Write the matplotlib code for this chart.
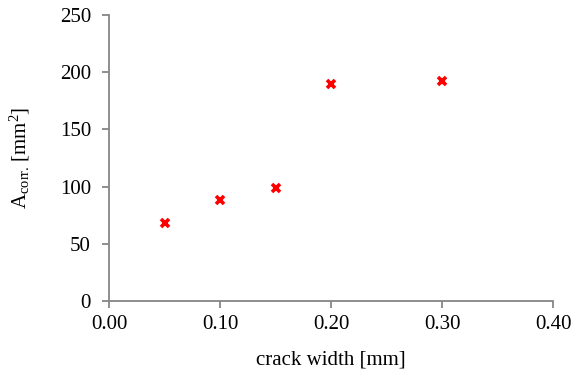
import matplotlib
matplotlib.use("Agg")
import matplotlib.pyplot as plt

# crack width vs. corroded area
crack_width = [0.05, 0.10, 0.15, 0.20, 0.30]
area_corr = [68.5, 88.0, 99.0, 189.5, 192.5]

x_ticks = [0.0, 0.1, 0.2, 0.3, 0.4]
x_labels = ["0.00", "0.10", "0.20", "0.30", "0.40"]
y_ticks = [0, 50, 100, 150, 200, 250]

plt.rcParams["font.family"] = ["Liberation Serif", "DejaVu Serif"]
plt.rcParams["mathtext.fontset"] = "custom"
plt.rcParams["mathtext.rm"] = "Liberation Serif"
plt.rcParams["mathtext.it"] = "Liberation Serif:italic"

axis_grey = "#868686"

fig = plt.figure(figsize=(5.71, 3.76), dpi=100)
ax = fig.add_axes([0.1909, 0.1995, 0.7776, 0.7606])

ax.plot(crack_width, area_corr, linestyle="none", marker="x",
        color="#ff0000", markersize=5.5, markeredgewidth=2.6, clip_on=False)

ax.set_xlim(0, 0.4)
ax.set_ylim(0, 250)
ax.set_xticks(x_ticks)
ax.set_xticklabels(x_labels)
ax.set_yticks(y_ticks)

for side in ("top", "right"):
    ax.spines[side].set_visible(False)
for side in ("left", "bottom"):
    ax.spines[side].set_color(axis_grey)
    ax.spines[side].set_linewidth(1.3)

ax.tick_params(axis="both", direction="out", length=5, width=1.3,
               color=axis_grey, labelsize=15, labelcolor="black")
ax.tick_params(axis="y", pad=8)
ax.tick_params(axis="x", pad=5)

ax.set_xlabel("crack width [mm]", fontsize=15, labelpad=12)
ax.set_ylabel(r"$\mathrm{A_{corr.}\,[mm^{2}]}$", fontsize=15, labelpad=20)

fig.savefig("out.png", dpi=100)
